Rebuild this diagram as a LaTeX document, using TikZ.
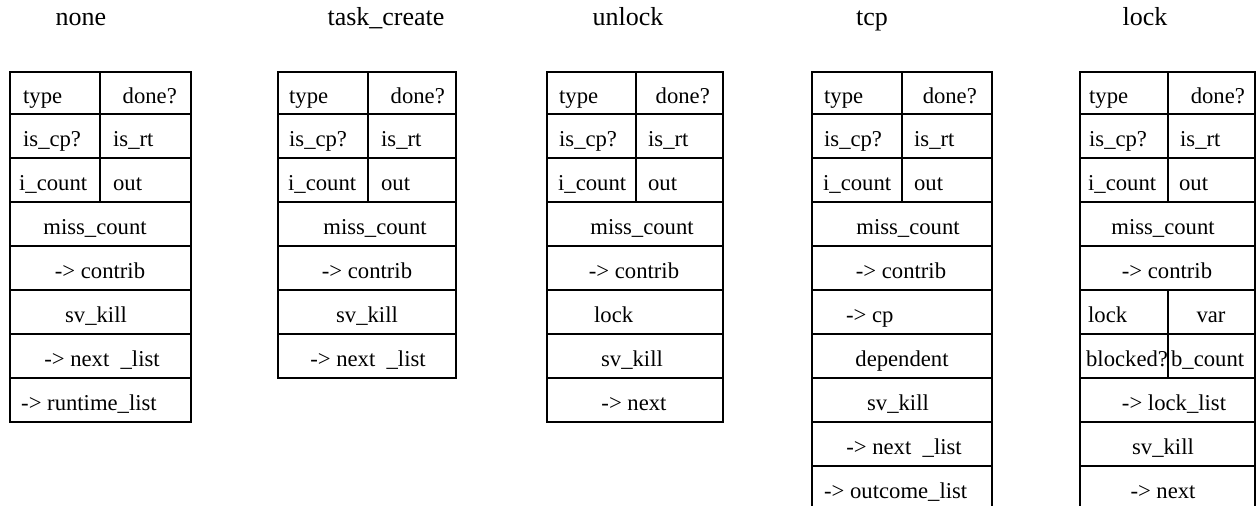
\documentclass[tikz,border=0pt]{standalone}
\usepackage{fontspec}
\setmainfont{Liberation Serif}
\begin{document}
\begin{tikzpicture}[x=0.02cm,y=-0.02cm,line width=1.3pt,
    every node/.style={inner sep=0pt,font=\fontsize{12.9}{15}\selectfont},
    title/.style={anchor=base,font=\fontsize{14.8}{17}\selectfont},
    fld/.style={anchor=base},
    lfld/.style={anchor=base west},
    rfld/.style={anchor=base east}]
  \clip (0,0) rectangle (1258,505);

  % titles
  \node[title] (tnone) at (81,25) {none};
  \node[title] (ttask) at (386,25) {task\_create};
  \node[title] (tunlock) at (628,25) {unlock};
  \node[title] (ttcp) at (872,25) {tcp};
  \node[title] (tlock) at (1145,25) {lock};

  % none
  \draw (10,72) rectangle (191,422);
  \foreach \y in {114,158,...,378} \draw (10,\y) -- (191,\y);
  \draw (100,72) -- (100,202);
  \node[lfld] (n-type) at (22,103) {type};
  \node[rfld] (n-done) at (178,103) {done?};
  \node[lfld] (n-iscp) at (22,146) {is\_cp?};
  \node[lfld] (n-isrt) at (112,146) {is\_rt};
  \node[lfld] (n-icnt) at (18,190) {i\_count};
  \node[lfld] (n-out) at (112,190) {out};
  \node[fld] (n-miss) at (95,234) {miss\_count};
  \node[fld] (n-contrib) at (100,278) {-> contrib};
  \node[fld] (n-svkill) at (96,322) {sv\_kill};
  \node[fld] (n-next) at (102,366) {-> next\ \ \_list};
  \node[fld] (n-runtime) at (89,410) {-> runtime\_list};

  % task_create
  \draw (278,72) rectangle (456,378);
  \foreach \y in {114,158,...,334} \draw (278,\y) -- (456,\y);
  \draw (368,72) -- (368,202);
  \node[lfld] (c-type) at (288,103) {type};
  \node[rfld] (c-done) at (446,103) {done?};
  \node[lfld] (c-iscp) at (288,146) {is\_cp?};
  \node[lfld] (c-isrt) at (380,146) {is\_rt};
  \node[lfld] (c-icnt) at (287,190) {i\_count};
  \node[lfld] (c-out) at (380,190) {out};
  \node[fld] (c-miss) at (375,234) {miss\_count};
  \node[fld] (c-contrib) at (367,278) {-> contrib};
  \node[fld] (c-svkill) at (367,322) {sv\_kill};
  \node[fld] (c-next) at (368,366) {-> next\ \ \_list};

  % unlock
  \draw (547,72) rectangle (723,422);
  \foreach \y in {114,158,...,378} \draw (547,\y) -- (723,\y);
  \draw (636,72) -- (636,202);
  \node[lfld] (u-type) at (558,103) {type};
  \node[rfld] (u-done) at (711,103) {done?};
  \node[lfld] (u-iscp) at (558,146) {is\_cp?};
  \node[lfld] (u-isrt) at (647,146) {is\_rt};
  \node[lfld] (u-icnt) at (557,190) {i\_count};
  \node[lfld] (u-out) at (647,190) {out};
  \node[fld] (u-miss) at (642,234) {miss\_count};
  \node[fld] (u-contrib) at (634,278) {-> contrib};
  \node[lfld] (u-lock) at (593,322) {lock};
  \node[fld] (u-svkill) at (632,366) {sv\_kill};
  \node[fld] (u-next) at (634,410) {-> next};

  % tcp
  \draw (812,72) rectangle (992,510);
  \foreach \y in {114,158,...,466} \draw (812,\y) -- (992,\y);
  \draw (902,72) -- (902,202);
  \node[lfld] (p-type) at (823,103) {type};
  \node[rfld] (p-done) at (978,103) {done?};
  \node[lfld] (p-iscp) at (823,146) {is\_cp?};
  \node[lfld] (p-isrt) at (913,146) {is\_rt};
  \node[lfld] (p-icnt) at (822,190) {i\_count};
  \node[lfld] (p-out) at (913,190) {out};
  \node[fld] (p-miss) at (908,234) {miss\_count};
  \node[fld] (p-contrib) at (901,278) {-> contrib};
  \node[lfld] (p-cp) at (845,322) {-> cp};
  \node[fld] (p-dep) at (902,366) {dependent};
  \node[fld] (p-svkill) at (898,410) {sv\_kill};
  \node[fld] (p-next) at (904,454) {-> next\ \ \_list};
  \node[lfld] (p-outcome) at (823,498) {-> outcome\_list};

  % lock
  \draw (1080,72) rectangle (1255,510);
  \foreach \y in {114,158,...,466} \draw (1080,\y) -- (1255,\y);
  \draw (1168,72) -- (1168,202);
  \draw (1168,290) -- (1168,378);
  \node[lfld] (l-type) at (1088,103) {type};
  \node[rfld] (l-done) at (1246,103) {done?};
  \node[lfld] (l-iscp) at (1088,146) {is\_cp?};
  \node[lfld] (l-isrt) at (1179,146) {is\_rt};
  \node[lfld] (l-icnt) at (1087,190) {i\_count};
  \node[lfld] (l-out) at (1178,190) {out};
  \node[fld] (l-miss) at (1163,234) {miss\_count};
  \node[fld] (l-contrib) at (1167,278) {-> contrib};
  \node[lfld] (l-lock) at (1087,322) {lock};
  \node[fld] (l-var) at (1211,322) {var};
  \node[lfld] (l-blocked) at (1085,366) {blocked?};
  \node[lfld] (l-bcnt) at (1170,366) {b\_count};
  \node[fld] (l-locklist) at (1174,410) {-> lock\_list};
  \node[fld] (l-svkill) at (1163,454) {sv\_kill};
  \node[fld] (l-next) at (1163,498) {-> next};
\end{tikzpicture}
\end{document}
